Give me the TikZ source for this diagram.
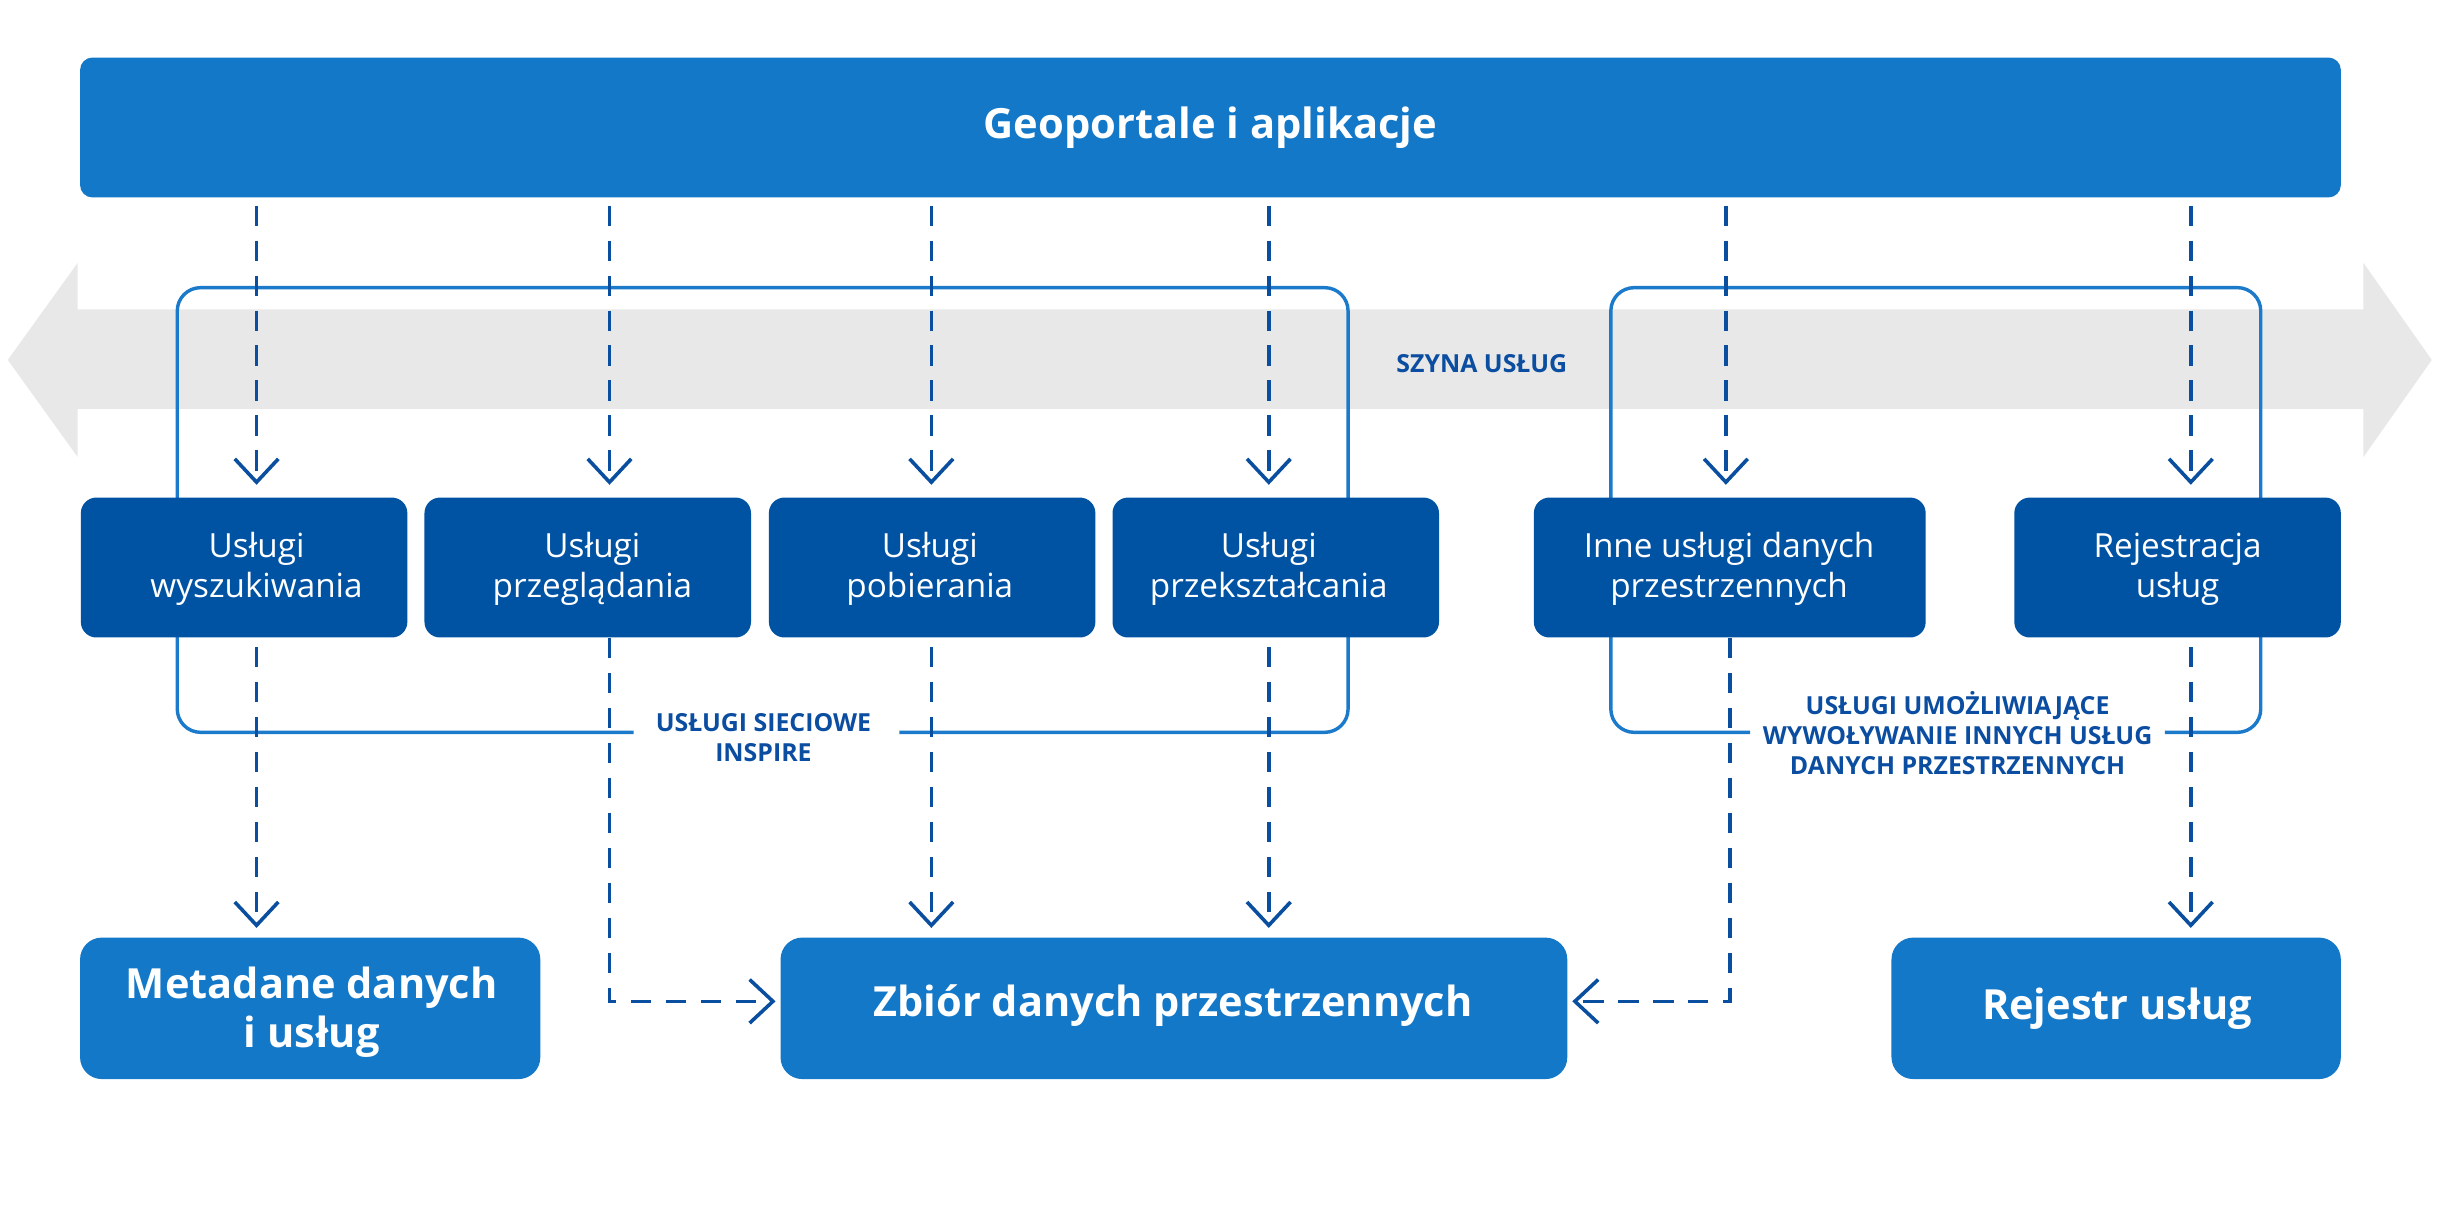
\documentclass[tikz,border=0pt]{standalone}
\usepackage{fontspec}
\setmainfont{Open Sans}
\usetikzlibrary{arrows.meta}
\definecolor{cLight}{HTML}{1478C8}
\definecolor{cDark}{HTML}{0052A3}
\definecolor{cLine}{HTML}{0A4EA0}
\definecolor{cBr}{HTML}{1C7ACB}
\definecolor{cGrey}{HTML}{E8E8E8}
\definecolor{cTxt}{HTML}{0B4DA0}
\tikzset{
  topbox/.style={fill=cLight, rounded corners=8pt, text=white, inner sep=0pt,
    font=\bfseries\fontsize{26.8}{32}\selectfont},
  svcbox/.style={fill=cDark, rounded corners=10pt, inner sep=0pt,
    minimum width=210pt, minimum height=90pt},
  svctext/.style={text=white, inner sep=0pt, align=center, font=\fontsize{21.4}{26}\selectfont},
  botbox/.style={fill=cLight, rounded corners=14pt, inner sep=0pt, minimum height=91pt},
  bottext/.style={text=white, inner sep=0pt, align=center, font=\bfseries\fontsize{26.7}{32}\selectfont},
  lbl/.style={text=cTxt, align=center, font=\bfseries\fontsize{16}{19.5}\selectfont, inner sep=0pt},
  bracket/.style={draw=cBr, line width=2.2pt, rounded corners=15pt},
  dashar/.style={draw=cLine, line width=2.3pt, dash pattern=on 13pt off 9.5pt,
    -{Straight Barb[length=15pt,width=28pt,line width=2.3pt]}},
}
\begin{document}
\begin{tikzpicture}[x=1pt,y=-1pt]
\useasboundingbox (0,0) rectangle (1568,791.7);
% grey bus arrow
\fill[cGrey] (5,231.5) -- (50,169) -- (50,199) -- (1520,199) -- (1520,169) -- (1564,231.5)
  -- (1520,294) -- (1520,263) -- (50,263) -- (50,294) -- cycle;
\node[lbl] (bus) at (953,234) {SZYNA USŁUG};
% labels for brackets
\node[lbl, inner xsep=14pt] (lblA) at (491,474.5) {USŁUGI SIECIOWE\\INSPIRE};
\node[lbl, inner xsep=8pt] (lblB) at (1259,471.5) {USŁUGI UMOŻLIWIAJĄCE\\WYWOŁYWANIE INNYCH USŁUG\\DANYCH PRZESTRZENNYCH};
% brackets
\draw[bracket] (lblA.west |- 0,471) -- (114,471) -- (114,185) -- (867,185) -- (867,471) -- ([xshift=4pt]lblA.east |- 0,471);
\draw[bracket] (lblB.west |- 0,471) -- (1036,471) -- (1036,185) -- (1454,185) -- (1454,471) -- (lblB.east |- 0,471);
% top bar
\node[topbox, minimum width=1454pt, minimum height=90pt] (top) at (778.5,82) {Geoportale i aplikacje};
% column coordinates
\coordinate (c1) at (165,0);
\coordinate (c2) at (392,0);
\coordinate (c3) at (599,0);
\coordinate (c4) at (816,0);
\coordinate (c5) at (1110,0);
\coordinate (c5b) at (1112.5,0);
\coordinate (c6) at (1409,0);
% service boxes
\node[svcbox] (s1) at (157,365) {};
\node[svcbox] (s2) at (378,365) {};
\node[svcbox] (s3) at (599.5,365) {};
\node[svcbox] (s4) at (820.5,365) {};
\node[svcbox, minimum width=252pt] (s5) at (1112.5,365) {};
\node[svcbox] (s6) at (1400.5,365) {};
\node[svctext] (t1) at (165,366) {Usługi\\wyszukiwania};
\node[svctext] (t2) at (381,366) {Usługi\\przeglądania};
\node[svctext] (t3) at (598,366) {Usługi\\pobierania};
\node[svctext] (t4) at (816,366) {Usługi\\przekształcania};
\node[svctext] (t5) at (1112,366) {Inne usługi danych\\przestrzennych};
\node[svctext] (t6) at (1400.5,366) {Rejestracja\\usług};
% bottom boxes
\node[botbox, minimum width=296pt] (meta) at (199.5,648.5) {};
\node[botbox, minimum width=506pt] (zb) at (755,648.5) {};
\node[botbox, minimum width=289pt] (rej) at (1361,648.5) {};
\node[bottext] (mt) at (200.5,651) {Metadane danych\\i usług};
\node[bottext] (zt) at (754.5,647) {Zbiór danych przestrzennych};
\node[bottext] (rt) at (1361.5,649) {Rejestr usług};
% top dashed arrows
\foreach \c/\s in {c1/s1,c2/s2,c3/s3,c4/s4,c5/s5,c6/s6}
  \draw[dashar, shorten <=5pt, shorten >=8pt] (\c |- top.south) -- (\c |- \s.north);
% lower dashed arrows
\draw[dashar, shorten <=6pt, shorten >=6pt] (c1 |- s1.south) -- (c1 |- meta.north);
\draw[dashar, shorten <=6pt, shorten >=6pt] (c3 |- s3.south) -- (c3 |- zb.north);
\draw[dashar, shorten <=6pt, shorten >=6pt] (c4 |- s4.south) -- (c4 |- zb.north);
\draw[dashar, shorten <=6pt, shorten >=6pt] (c6 |- s6.south) -- (c6 |- rej.north);
\draw[dashar, shorten >=3pt] (c2 |- s2.south) -- (c2 |- 0,644) -- ([yshift=4.5pt]zb.west);
\draw[dashar, shorten >=3pt] (c5b |- s5.south) -- (c5b |- 0,644) -- ([yshift=4.5pt]zb.east);
\end{tikzpicture}
\end{document}
